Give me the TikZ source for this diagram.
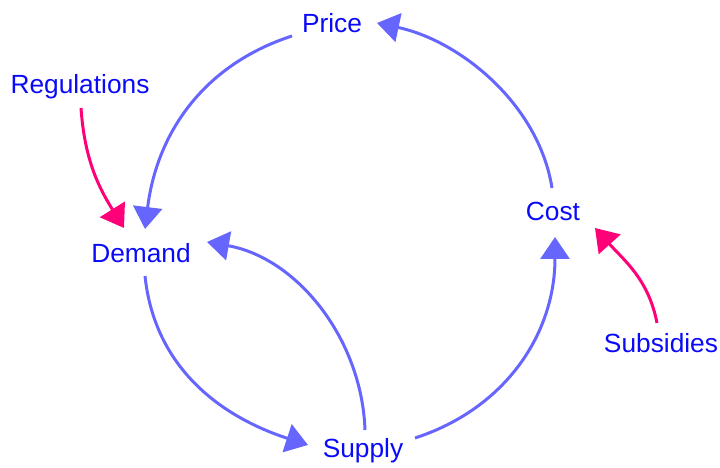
\documentclass[tikz,border=0pt]{standalone}
\usepackage{fontspec}
\setmainfont{Liberation Sans}
\usetikzlibrary{arrows.meta}
\definecolor{txtblue}{RGB}{10,10,250}
\definecolor{arrblue}{RGB}{102,102,255}
\definecolor{arrpink}{RGB}{255,0,120}
\tikzset{
  lbl/.style={anchor=base, inner sep=0pt, text=txtblue, font=\fontsize{26.3pt}{30pt}\selectfont},
  link/.style={draw=arrblue, line width=3pt, -{Triangle[length=22pt,width=29pt]}},
  ext/.style={draw=arrpink, line width=3pt, -{Triangle[length=22pt,width=29pt]}}
}
\begin{document}
\begin{tikzpicture}[x=1pt,y=1pt]
\useasboundingbox (0,0) rectangle (720,468);
\node[lbl] (price) at (332,435) {Price};
\node[lbl] (regs) at (80,374) {Regulations};
\node[lbl] (demand) at (141,205) {Demand};
\node[lbl] (cost) at (553,247) {Cost};
\node[lbl] (supply) at (363,10) {Supply};
\node[lbl] (subs) at (661,115) {Subsidies};

\draw[link] ([shift={(-40,-3)}]price.base) to[out=198,in=83] ([shift={(4,34)}]demand.base);
\draw[link] ([shift={(-1,33)}]cost.base) to[out=99,in=348,looseness=0.9] ([shift={(45,10)}]price.base);
\draw[link] ([shift={(52,20)}]supply.base) to[out=18,in=270] ([shift={(2,-16)}]cost.base);
\draw[link] ([shift={(4,-13)}]demand.base) to[out=276,in=162] ([shift={(-55,13)}]supply.base);
\draw[link] ([shift={(2,28)}]supply.base) to[out=92,in=350,looseness=0.95] ([shift={(66,21)}]demand.base);
\draw[ext] ([shift={(1,-14)}]regs.base) to[out=274,in=122] ([shift={(-17,35)}]demand.base);
\draw[ext] ([shift={(-4,30)}]subs.base) to[out=101,in=312] ([shift={(42,-7)}]cost.base);
\end{tikzpicture}
\end{document}
